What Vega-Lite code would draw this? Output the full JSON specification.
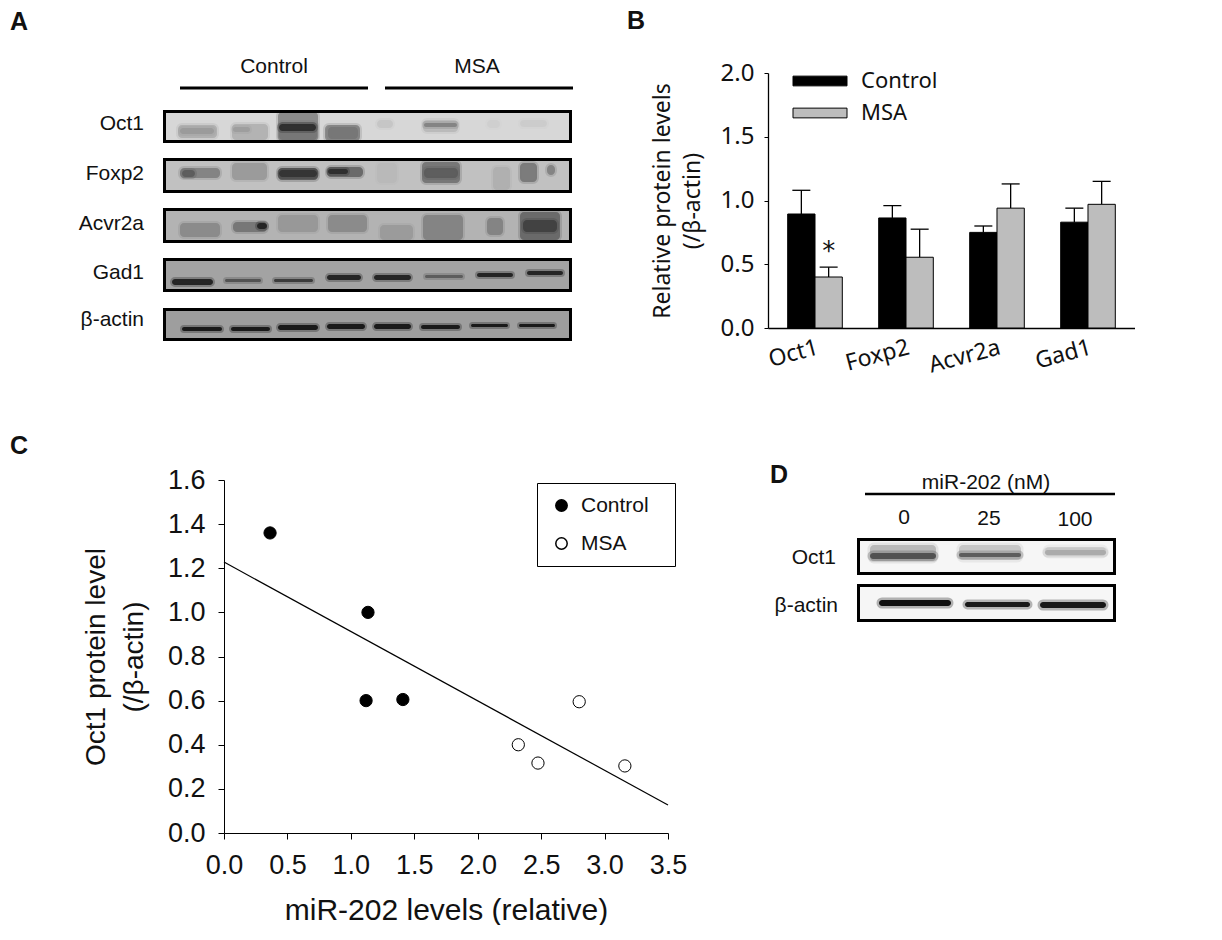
{
"$schema":"https://vega.github.io/schema/vega-lite/v6.json",
"background":"white",
"padding":{"left":10,"top":9,"right":0,"bottom":0},
"bounds":"flush",
"columns":2,
"spacing":{"row":138,"column":100},
"resolve":{"scale":{"fill":"independent"},"legend":{"fill":"independent"}},
"datasets":{
"aFrames":[
{"blot":"Oct1","x0":1.5,"x1":407.5,"y0":51.5,"y1":81.5,"signal":0.14},
{"blot":"Foxp2","x0":1.5,"x1":407.5,"y0":99.5,"y1":131.5,"signal":0.22},
{"blot":"Acvr2a","x0":1.5,"x1":407.5,"y0":149.5,"y1":181.5,"signal":0.27},
{"blot":"Gad1","x0":1.5,"x1":407.5,"y0":199.5,"y1":230.5,"signal":0.33},
{"blot":"β-actin","x0":1.5,"x1":407.5,"y0":249.5,"y1":279.5,"signal":0.35}],
"aBands":[
{"x0":15,"x1":54,"y0":65,"y1":78,"signal":0.28},{"x0":17,"x1":51,"y0":68,"y1":74,"signal":0.36},
{"x0":69,"x1":105,"y0":64,"y1":80,"signal":0.27},{"x0":70,"x1":87,"y0":67,"y1":72,"signal":0.35},
{"x0":115,"x1":155,"y0":52,"y1":81,"signal":0.42},{"x0":116,"x1":154,"y0":62,"y1":80,"signal":0.5},{"x0":116,"x1":153,"y0":64,"y1":71,"signal":0.8},
{"x0":162,"x1":197,"y0":65,"y1":81,"signal":0.42},{"x0":165,"x1":195,"y0":67,"y1":79,"signal":0.5},
{"x0":214,"x1":230,"y0":60,"y1":68,"signal":0.2},
{"x0":260,"x1":295,"y0":60,"y1":72,"signal":0.24},{"x0":261,"x1":294,"y0":63,"y1":67,"signal":0.45},
{"x0":324,"x1":337,"y0":60,"y1":68,"signal":0.17},
{"x0":357,"x1":384,"y0":60,"y1":67,"signal":0.18},
{"x0":17,"x1":57,"y0":108,"y1":118,"signal":0.45},{"x0":19,"x1":32,"y0":110,"y1":117,"signal":0.6},
{"x0":69,"x1":104,"y0":103,"y1":120,"signal":0.36},
{"x0":115,"x1":155,"y0":108,"y1":120,"signal":0.6},{"x0":116,"x1":154,"y0":110,"y1":117,"signal":0.78},
{"x0":164,"x1":200,"y0":107,"y1":117,"signal":0.55},{"x0":165,"x1":185,"y0":109,"y1":114,"signal":0.8},
{"x0":214,"x1":234,"y0":103,"y1":123,"signal":0.25},
{"x0":259,"x1":297,"y0":102,"y1":123,"signal":0.5},{"x0":261,"x1":295,"y0":108,"y1":118,"signal":0.6},
{"x0":330,"x1":347,"y0":107,"y1":130,"signal":0.28},
{"x0":357,"x1":374,"y0":103,"y1":122,"signal":0.48},{"x0":384,"x1":392,"y0":105,"y1":115,"signal":0.45},
{"x0":17,"x1":57,"y0":163,"y1":177,"signal":0.42},
{"x0":70,"x1":104,"y0":162,"y1":172,"signal":0.5},{"x0":94,"x1":104,"y0":163,"y1":169,"signal":0.85},
{"x0":115,"x1":155,"y0":155,"y1":172,"signal":0.37},
{"x0":165,"x1":204,"y0":155,"y1":172,"signal":0.42},
{"x0":217,"x1":250,"y0":165,"y1":180,"signal":0.36},
{"x0":260,"x1":300,"y0":155,"y1":180,"signal":0.45},
{"x0":324,"x1":340,"y0":158,"y1":175,"signal":0.45},
{"x0":357,"x1":397,"y0":152,"y1":180,"signal":0.55},{"x0":360,"x1":394,"y0":160,"y1":172,"signal":0.72},
{"x0":9,"x1":50,"y0":219,"y1":225,"signal":0.85},
{"x0":62,"x1":98,"y0":219,"y1":222,"signal":0.65},
{"x0":111,"x1":150,"y0":219,"y1":222,"signal":0.75},
{"x0":164,"x1":198,"y0":215,"y1":220,"signal":0.85},
{"x0":211,"x1":248,"y0":215,"y1":220,"signal":0.85},
{"x0":262,"x1":300,"y0":215,"y1":218,"signal":0.6},
{"x0":314,"x1":350,"y0":213,"y1":217,"signal":0.85},
{"x0":364,"x1":400,"y0":211,"y1":215,"signal":0.85},
{"x0":19,"x1":59,"y0":267,"y1":271,"signal":0.9},
{"x0":68,"x1":107,"y0":267,"y1":271,"signal":0.9},
{"x0":115,"x1":155,"y0":265,"y1":270,"signal":0.9},
{"x0":164,"x1":202,"y0":264,"y1":269,"signal":0.9},
{"x0":211,"x1":248,"y0":264,"y1":269,"signal":0.9},
{"x0":258,"x1":297,"y0":265,"y1":269,"signal":0.9},
{"x0":308,"x1":345,"y0":264,"y1":267,"signal":0.9},
{"x0":356,"x1":392,"y0":264,"y1":267,"signal":0.9}],
"aHeaders":[{"group":"Control","x0":17,"x1":205,"y":28,"cx":111,"ty":7},{"group":"MSA","x0":222,"x1":410,"y":28,"cx":314,"ty":7}],
"aLabels":[{"label":"Oct1","x":-19,"y":64},{"label":"Foxp2","x":-19,"y":114},{"label":"Acvr2a","x":-19,"y":164},{"label":"Gad1","x":-19,"y":213},{"label":"β-actin","x":-19,"y":260}],
"bars":[
{"protein":"Oct1","group":"Control","value":0.894,"upper":1.08},
{"protein":"Oct1","group":"MSA","value":0.40,"upper":0.477},
{"protein":"Foxp2","group":"Control","value":0.863,"upper":0.96},
{"protein":"Foxp2","group":"MSA","value":0.555,"upper":0.775},
{"protein":"Acvr2a","group":"Control","value":0.75,"upper":0.80},
{"protein":"Acvr2a","group":"MSA","value":0.94,"upper":1.13},
{"protein":"Gad1","group":"Control","value":0.83,"upper":0.94},
{"protein":"Gad1","group":"MSA","value":0.97,"upper":1.15}],
"points":[
{"mir":0.363,"oct1":1.36,"group":"Control"},{"mir":1.135,"oct1":1.0,"group":"Control"},{"mir":1.12,"oct1":0.60,"group":"Control"},{"mir":1.41,"oct1":0.605,"group":"Control"},
{"mir":2.32,"oct1":0.40,"group":"MSA"},{"mir":2.475,"oct1":0.317,"group":"MSA"},{"mir":2.80,"oct1":0.595,"group":"MSA"},{"mir":3.16,"oct1":0.304,"group":"MSA"}],
"fit":[{"mir":0,"oct1":1.228},{"mir":3.5,"oct1":0.127}],
"dFrames":[{"x0":1.5,"x1":257.5,"y0":59.5,"y1":93.5,"signal":0.03},{"x0":1.5,"x1":257.5,"y0":105.5,"y1":140.5,"signal":0.03}],
"dBands":[
{"x0":13,"x1":79,"y0":65,"y1":81,"signal":0.25},{"x0":13,"x1":79,"y0":73,"y1":79,"signal":0.65},
{"x0":102,"x1":164,"y0":65,"y1":80,"signal":0.2},{"x0":102,"x1":164,"y0":73,"y1":77,"signal":0.6},
{"x0":188,"x1":249,"y0":67,"y1":76,"signal":0.15},{"x0":188,"x1":249,"y0":70,"y1":75,"signal":0.3},
{"x0":22,"x1":94,"y0":120,"y1":126,"signal":0.95},
{"x0":108,"x1":173,"y0":122,"y1":127,"signal":0.9},
{"x0":183,"x1":249,"y0":122,"y1":128,"signal":0.92}],
"dHeader":[{"text":"miR-202 (nM)","x0":8,"x1":258,"y":14,"cx":129,"ty":3}],
"dDoses":[{"dose":"0","x":47,"y":38},{"dose":"25","x":132,"y":39},{"dose":"100","x":218,"y":40}],
"dLabels":[{"label":"Oct1","x":-21,"y":78},{"label":"β-actin","x":-19,"y":126}],
"star":[{"protein":"Oct1","group":"MSA","y":0.594,"text":"*"}]
},
"config":{"view":{"stroke":null},"font":"Liberation Sans","text":{"color":"#111111"}},
"concat":[
{
"title":{"text":"A","anchor":"start","frame":"group","dx":-214,"offset":0,"dy":-21,"fontSize":25,"fontWeight":"bold","font":"Liberation Sans","color":"#111111"},
"width":348,"height":269,
"layer":[
{"data":{"name":"aFrames"},"mark":{"type":"rect"},
"encoding":{"x":{"field":"x0","type":"quantitative","scale":{"domain":[61,409],"nice":false,"zero":false},"axis":null},"x2":{"field":"x1"},
"y":{"field":"y0","type":"quantitative","scale":{"domain":[13,282],"reverse":true,"nice":false,"zero":false},"axis":null},"y2":{"field":"y1"},
"color":{"field":"signal","type":"quantitative","scale":{"domain":[0,1],"range":["#ffffff","#000000"]},"legend":null}}},
{"data":{"name":"aBands"},"mark":{"type":"rect","cornerRadius":4,"strokeWidth":4,"strokeOpacity":0.3},
"encoding":{"x":{"field":"x0","type":"quantitative"},"x2":{"field":"x1"},"y":{"field":"y0","type":"quantitative"},"y2":{"field":"y1"},
"color":{"field":"signal","type":"quantitative"},
"stroke":{"field":"signal","type":"quantitative","scale":{"domain":[0,1],"range":["#ffffff","#000000"]},"legend":null}}},
{"data":{"name":"aFrames"},"mark":{"type":"rect","filled":false,"stroke":"#000000","strokeWidth":3},
"encoding":{"x":{"field":"x0","type":"quantitative"},"x2":{"field":"x1"},"y":{"field":"y0","type":"quantitative"},"y2":{"field":"y1"}}},
{"data":{"name":"aHeaders"},"mark":{"type":"rule","stroke":"#000000","strokeWidth":3},
"encoding":{"x":{"field":"x0","type":"quantitative"},"x2":{"field":"x1"},"y":{"field":"y","type":"quantitative"}}},
{"data":{"name":"aHeaders"},"mark":{"type":"text","fontSize":21,"align":"center","baseline":"middle"},
"encoding":{"x":{"field":"cx","type":"quantitative"},"y":{"field":"ty","type":"quantitative"},"text":{"field":"group"}}},
{"data":{"name":"aLabels"},"mark":{"type":"text","fontSize":21,"align":"right","baseline":"middle"},
"encoding":{"x":{"field":"x","type":"quantitative"},"y":{"field":"y","type":"quantitative"},"text":{"field":"label"}}}
]
},
{
"title":{"text":"B","anchor":"start","frame":"group","dx":-141,"offset":0,"dy":-27,"fontSize":25,"fontWeight":"bold","font":"Liberation Sans","color":"#111111"},
"width":367,"height":255,
"layer":[
{"data":{"name":"bars"},"mark":{"type":"rule","stroke":"#000000","strokeWidth":1.3},
"encoding":{"x":{"field":"protein","type":"nominal","sort":["Oct1","Foxp2","Acvr2a","Gad1"]},"xOffset":{"field":"group","type":"nominal","sort":["Control","MSA"]},"y":{"field":"value","type":"quantitative"},"y2":{"field":"upper"}}},
{"data":{"name":"bars"},"mark":{"type":"tick","orient":"horizontal","color":"#000000","size":18,"thickness":1.3,"opacity":1},
"encoding":{"x":{"field":"protein","type":"nominal","sort":["Oct1","Foxp2","Acvr2a","Gad1"]},"xOffset":{"field":"group","type":"nominal","sort":["Control","MSA"]},"y":{"field":"upper","type":"quantitative"}}},
{"data":{"name":"bars"},"mark":{"type":"bar","stroke":"#000000","strokeWidth":1},
"encoding":{
"x":{"field":"protein","type":"nominal","sort":["Oct1","Foxp2","Acvr2a","Gad1"],"scale":{"paddingInner":0.4,"paddingOuter":0.2165},
"axis":{"title":null,"labelAngle":-15,"labelAlign":"right","labelBaseline":"top","labelFont":"Noto Sans","labelFontSize":23,"labelColor":"#111111","labelPadding":8,"ticks":false,"domainColor":"#000000","domainWidth":1.5}},
"xOffset":{"field":"group","type":"nominal","sort":["Control","MSA"],"scale":{"paddingInner":0,"paddingOuter":0}},
"y":{"field":"value","type":"quantitative","scale":{"domain":[0,2],"nice":false},
"axis":{"values":[0,0.5,1,1.5,2],"format":".1f","grid":false,"title":["Relative protein levels","(/β-actin)"],"titleFont":"Noto Sans","titleFontWeight":"normal","titleFontSize":23,"titleLineHeight":30,"titleColor":"#111111","titlePadding":16,"labelFont":"Noto Sans","labelFontSize":24,"labelColor":"#111111","labelPadding":10,"tickColor":"#000000","tickSize":4,"domainColor":"#000000","domainWidth":1.3}},
"fill":{"field":"group","type":"nominal","scale":{"domain":["Control","MSA"],"range":["#000000","#bdbdbd"]},
"legend":{"orient":"none","legendX":38,"legendY":-6,"title":null,"symbolType":"M-2,-0.36H2V0.36H-2Z","symbolSize":729,"symbolStrokeColor":"#000000","symbolStrokeWidth":1,"labelFont":"Noto Sans","labelFontSize":22,"labelColor":"#111111","labelOffset":27,"rowPadding":7}}}},
{"data":{"name":"star"},"mark":{"type":"text","font":"DejaVu Sans","fontSize":26,"align":"center","baseline":"middle","color":"#111111"},
"encoding":{"x":{"field":"protein","type":"nominal","sort":["Oct1","Foxp2","Acvr2a","Gad1"]},"xOffset":{"field":"group","type":"nominal","sort":["Control","MSA"]},"y":{"field":"y","type":"quantitative"},"text":{"field":"text"}}}
]
},
{
"title":{"text":"C","anchor":"start","frame":"group","dx":-214,"offset":0,"dy":-7,"fontSize":25,"fontWeight":"bold","font":"Liberation Sans","color":"#111111"},
"width":444,"height":353,
"layer":[
{"data":{"name":"fit"},"mark":{"type":"line","stroke":"#000000","strokeWidth":1.2},
"encoding":{"x":{"field":"mir","type":"quantitative"},"y":{"field":"oct1","type":"quantitative"}}},
{"data":{"name":"points"},"mark":{"type":"point","filled":true,"stroke":"#000000","strokeWidth":1,"opacity":1,"size":150},
"encoding":{
"x":{"field":"mir","type":"quantitative","scale":{"domain":[0,3.5],"nice":false},
"axis":{"values":[0,0.5,1,1.5,2,2.5,3,3.5],"format":".1f","grid":false,"labelFlush":false,"title":"miR-202 levels (relative)","titleFontWeight":"normal","titleFontSize":30,"titleColor":"#111111","titlePadding":17,"labelFontSize":27,"labelColor":"#111111","labelPadding":13,"tickColor":"#000000","tickSize":6,"domainColor":"#000000"}},
"y":{"field":"oct1","type":"quantitative","scale":{"domain":[0,1.6],"nice":false},
"axis":{"values":[0,0.2,0.4,0.6,0.8,1,1.2,1.4,1.6],"format":".1f","grid":false,"title":["Oct1 protein level","(/β-actin)"],"titleFontWeight":"normal","titleFontSize":28,"titleLineHeight":38,"titleColor":"#111111","titlePadding":19,"labelFontSize":27,"labelColor":"#111111","labelPadding":13,"tickColor":"#000000","tickSize":6,"domainColor":"#000000"}},
"fill":{"field":"group","type":"nominal","scale":{"domain":["Control","MSA"],"range":["#000000","#ffffff"]},
"legend":{"orient":"none","legendX":313,"legendY":3,"title":" ","titleOrient":"right","titlePadding":14,"titleFontSize":6,"strokeColor":"#000000","padding":12,"symbolOffset":2,"symbolType":"circle","symbolSize":130,"symbolStrokeColor":"#000000","labelFontSize":21,"labelColor":"#111111","labelOffset":9,"rowPadding":16}}}}
]
},
{
"title":{"text":"D","anchor":"start","frame":"group","dx":2,"offset":0,"dy":16,"fontSize":25,"fontWeight":"bold","font":"Liberation Sans","color":"#111111"},
"width":348,"height":145,
"layer":[
{"data":{"name":"dFrames"},"mark":{"type":"rect"},
"encoding":{"x":{"field":"x0","type":"quantitative","scale":{"domain":[-89,259],"nice":false,"zero":false},"axis":null},"x2":{"field":"x1"},
"y":{"field":"y0","type":"quantitative","scale":{"domain":[0,145],"reverse":true,"nice":false,"zero":false},"axis":null},"y2":{"field":"y1"},
"color":{"field":"signal","type":"quantitative","scale":{"domain":[0,1],"range":["#ffffff","#000000"]},"legend":null}}},
{"data":{"name":"dBands"},"mark":{"type":"rect","cornerRadius":4,"strokeWidth":5,"strokeOpacity":0.3},
"encoding":{"x":{"field":"x0","type":"quantitative"},"x2":{"field":"x1"},"y":{"field":"y0","type":"quantitative"},"y2":{"field":"y1"},
"color":{"field":"signal","type":"quantitative"},
"stroke":{"field":"signal","type":"quantitative","scale":{"domain":[0,1],"range":["#ffffff","#000000"]},"legend":null}}},
{"data":{"name":"dFrames"},"mark":{"type":"rect","filled":false,"stroke":"#000000","strokeWidth":3},
"encoding":{"x":{"field":"x0","type":"quantitative"},"x2":{"field":"x1"},"y":{"field":"y0","type":"quantitative"},"y2":{"field":"y1"}}},
{"data":{"name":"dHeader"},"mark":{"type":"rule","stroke":"#000000","strokeWidth":2.5},
"encoding":{"x":{"field":"x0","type":"quantitative"},"x2":{"field":"x1"},"y":{"field":"y","type":"quantitative"}}},
{"data":{"name":"dHeader"},"mark":{"type":"text","fontSize":21,"align":"center","baseline":"middle"},
"encoding":{"x":{"field":"cx","type":"quantitative"},"y":{"field":"ty","type":"quantitative"},"text":{"field":"text"}}},
{"data":{"name":"dDoses"},"mark":{"type":"text","fontSize":21,"align":"center","baseline":"middle"},
"encoding":{"x":{"field":"x","type":"quantitative"},"y":{"field":"y","type":"quantitative"},"text":{"field":"dose"}}},
{"data":{"name":"dLabels"},"mark":{"type":"text","fontSize":21,"align":"right","baseline":"middle"},
"encoding":{"x":{"field":"x","type":"quantitative"},"y":{"field":"y","type":"quantitative"},"text":{"field":"label"}}}
]
}
]
}
